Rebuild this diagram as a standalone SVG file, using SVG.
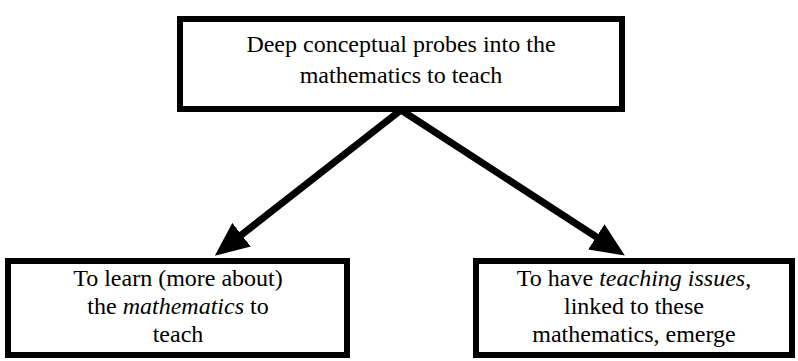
<svg xmlns="http://www.w3.org/2000/svg" width="798" height="361" viewBox="0 0 798 361">
<defs>
<style>
.box{fill:#fff;stroke:#000;stroke-width:6}
.t{font-family:'Liberation Serif','DejaVu Serif',serif;font-size:24px;fill:#000;text-anchor:middle}
.i{font-style:italic}
.conn{stroke:#000;stroke-width:7;fill:none}
</style>
<marker id="ah" markerUnits="userSpaceOnUse" markerWidth="34" markerHeight="30" viewBox="0 0 34 30" refX="2" refY="15" orient="auto">
<path d="M0,0 L34,15 L0,30 z" fill="#000"/>
</marker>
</defs>
<rect width="798" height="361" fill="#fff"/>
<g id="connectors">
<path class="conn" d="M401,110 L240,236" marker-end="url(#ah)"/>
<path class="conn" d="M401,110 L598,238" marker-end="url(#ah)"/>
</g>
<g id="top">
<rect class="box" x="180" y="19" width="442" height="90"/>
<text class="t" x="401" y="52" font-family="Liberation Serif, DejaVu Serif, serif">Deep conceptual probes into the</text>
<text class="t" x="401" y="83" font-family="Liberation Serif, DejaVu Serif, serif">mathematics to teach</text>
</g>
<g id="left">
<rect class="box" x="8" y="261" width="339" height="94"/>
<text class="t" x="178" y="286" font-family="Liberation Serif, DejaVu Serif, serif">To learn (more about)</text>
<text class="t" x="178" y="314" font-family="Liberation Serif, DejaVu Serif, serif">the <tspan class="i">mathematics</tspan> to</text>
<text class="t" x="178" y="342" font-family="Liberation Serif, DejaVu Serif, serif">teach</text>
</g>
<g id="right">
<rect class="box" x="476" y="261" width="316" height="94"/>
<text class="t" x="634" y="286" font-family="Liberation Serif, DejaVu Serif, serif">To have <tspan class="i">teaching issues</tspan>,</text>
<text class="t" x="634" y="314" font-family="Liberation Serif, DejaVu Serif, serif">linked to these</text>
<text class="t" x="634" y="342" font-family="Liberation Serif, DejaVu Serif, serif">mathematics, emerge</text>
</g>
</svg>
